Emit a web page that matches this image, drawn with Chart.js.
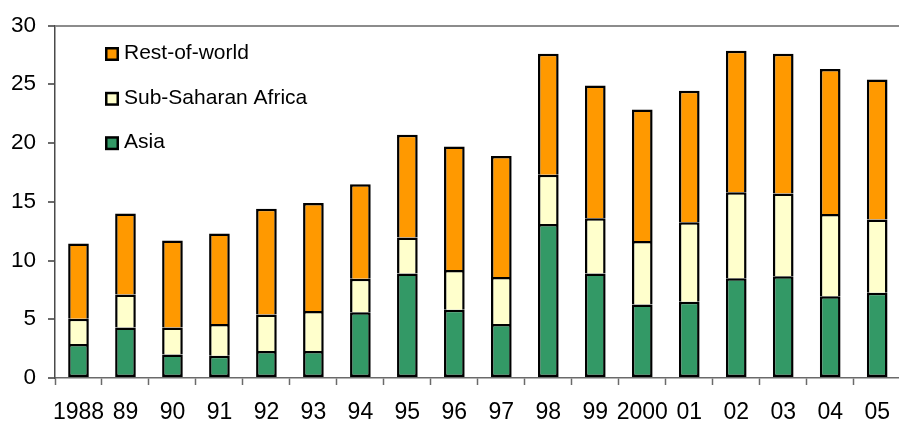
<!DOCTYPE html>
<html>
<head>
<meta charset="utf-8">
<script src="https://cdn.jsdelivr.net/npm/chart.js@4/dist/chart.umd.min.js"></script>
<style>
  html, body { margin: 0; padding: 0; background: #fff; overflow: hidden; }
  #wrap { position: relative; width: 904px; height: 422px; }
</style>
</head>
<body>
<div id="wrap"><canvas id="c"></canvas></div>
<script>
// Years on the category axis
const years = ['1988', '89', '90', '91', '92', '93', '94', '95', '96', '97',
               '98', '99', '2000', '01', '02', '03', '04', '05'];

// Stacked components (bottom to top)
const asia        = [2.9, 4.3, 2.0, 1.9, 2.3, 2.3, 5.6, 8.9, 5.8, 4.6,
                     13.1, 8.9, 6.25, 6.5, 8.5, 8.65, 6.95, 7.25];
const subSaharan  = [2.15, 2.8, 2.3, 2.7, 3.1, 3.4, 2.85, 3.05, 3.4, 4.0,
                     4.2, 4.7, 5.4, 6.75, 7.3, 7.05, 7.0, 6.25];
const restOfWorld = [6.4, 6.9, 7.4, 7.7, 9.0, 9.2, 8.05, 8.75, 10.5, 10.3,
                     10.3, 11.3, 11.2, 11.2, 12.05, 11.9, 12.35, 11.9];

// Value-axis ticks
const yTicks = [0, 5, 10, 15, 20, 25, 30];

const FONT = 'Liberation Sans, Arial, sans-serif';

// Legend drawn inside the plot, top item = top segment
const insideLegend = {
  id: 'insideLegend',
  afterDraw(chart) {
    const ctx = chart.ctx;
    const items = chart.data.datasets.slice().reverse();
    const x0 = 105, rowY = [53.5, 98.3, 142.7], box = 14;
    ctx.save();
    ctx.font = '21px ' + FONT;
    ctx.textBaseline = 'middle';
    ctx.textAlign = 'left';
    items.forEach((ds, i) => {
      const cy = rowY[i] + 0.5;
      ctx.fillStyle = '#000';
      ctx.fillRect(x0, cy - box / 2, box, box);
      ctx.fillStyle = ds.backgroundColor;
      ctx.fillRect(x0 + 2.5, cy - box / 2 + 2.5, box - 5, box - 5);
      ctx.fillStyle = '#000';
      ctx.fillText(ds.label, x0 + 19, rowY[i]);
    });
    ctx.restore();
  }
};

new Chart(document.getElementById('c'), {
  type: 'bar',
  data: {
    labels: years,
    datasets: [
      { label: 'Asia', data: asia, backgroundColor: '#339966',
        borderColor: '#000', borderWidth: 2.5, borderSkipped: false },
      { label: 'Sub-Saharan Africa', data: subSaharan, backgroundColor: '#FFFFCC',
        borderColor: '#000', borderWidth: 2.5, borderSkipped: 'start' },
      { label: 'Rest-of-world', data: restOfWorld, backgroundColor: '#FF9900',
        borderColor: '#000', borderWidth: 2.5, borderSkipped: 'start' }
    ]
  },
  options: {
    responsive: true,
    maintainAspectRatio: false,
    animation: false,
    devicePixelRatio: 1,
    layout: { autoPadding: false, padding: { top: 22.5, right: 0.6, left: 0, bottom: 0 } },
    datasets: { bar: { barPercentage: 0.44, categoryPercentage: 1.0, inflateAmount: 0 } },
    plugins: { legend: { display: false }, tooltip: { enabled: false } },
    scales: {
      x: {
        stacked: true,
        afterFit(s) { s.height = 44; },
        border: { display: true, color: '#6a6a6a', width: 1.5 },
        grid: { offset: true, drawOnChartArea: false, tickLength: 7,
                tickColor: '#6a6a6a', tickWidth: 1.5 },
        ticks: { color: '#000', font: { family: FONT, size: 23 }, padding: 14,
                 maxRotation: 0, autoSkip: false }
      },
      y: {
        stacked: true,
        min: 0, max: 30,
        afterFit(s) { s.width = 55; },
        afterBuildTicks(s) { s.ticks = yTicks.map(v => ({ value: v })); },
        border: { display: true, color: '#4a4a4a', width: 1.5 },
        grid: {
          drawOnChartArea: true,
          tickLength: 7,
          tickColor: '#3a3a3a',
          tickWidth: 1.5,
          lineWidth: 2,
          color: ctx => (ctx.tick && ctx.tick.value === 30) ? '#8c8c8c' : 'rgba(0,0,0,0)'
        },
        ticks: { color: '#000', font: { family: FONT, size: 22.5 }, padding: 12 }
      }
    }
  },
  plugins: [insideLegend]
});
</script>
</body>
</html>
